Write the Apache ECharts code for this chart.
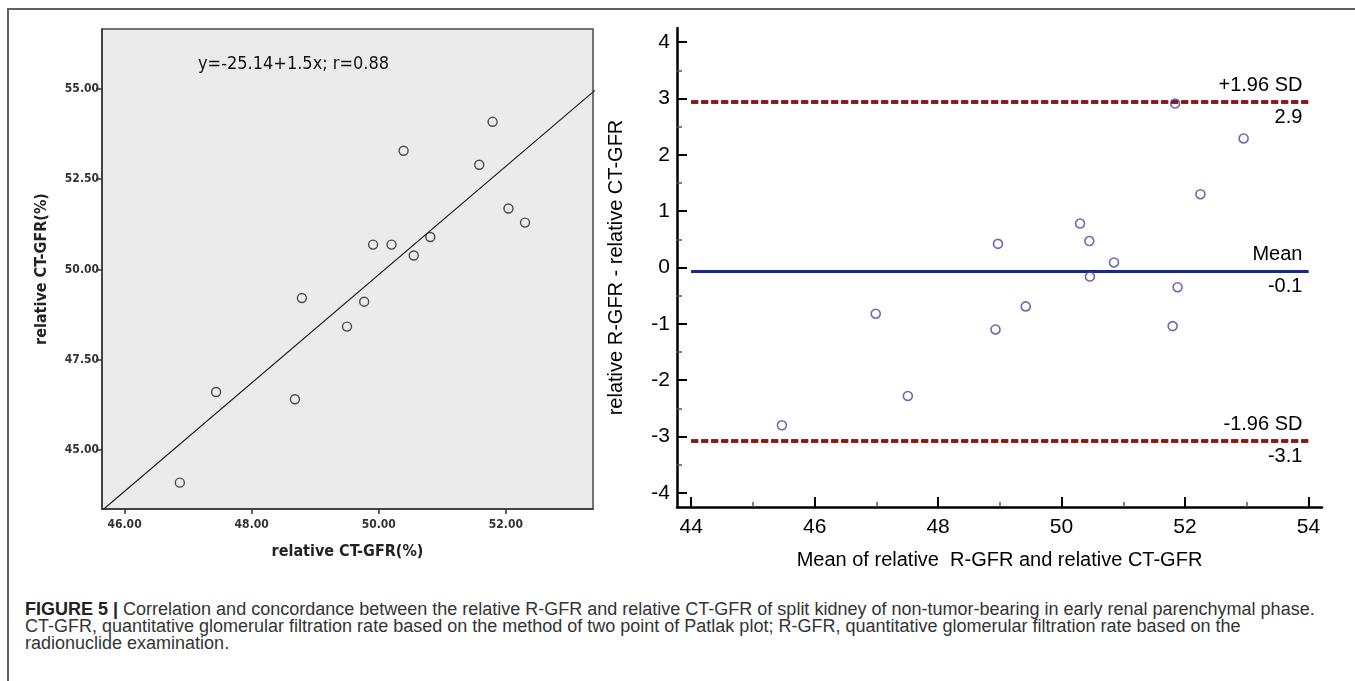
<!DOCTYPE html>
<html>
<head>
<meta charset="utf-8">
<title>Figure 5</title>
<script src="https://cdn.jsdelivr.net/npm/echarts@6/dist/echarts.min.js"></script>
<style>
  body { margin: 0; background: #fff; }
  #frame { position: absolute; left: 7px; top: 8px; width: 1348px; height: 673px;
           border-top: 2px solid #5f5f5f; border-left: 2px solid #5f5f5f; }
  #chart { position: absolute; left: 0; top: 0; width: 1355px; height: 590px; }
  #caption { position: absolute; left: 25px; top: 601px; font: 18px/17px 'Liberation Sans', Arial, sans-serif;
             color: #333; white-space: nowrap; }
  #caption b { color: #222; }
</style>
</head>
<body>
<div id="frame"></div>
<div id="chart"></div>
<div id="caption">
  <b>FIGURE 5 |</b> Correlation and concordance between the relative R-GFR and relative CT-GFR of split kidney of non-tumor-bearing in early renal parenchymal phase.<br>
  CT-GFR, quantitative glomerular filtration rate based on the method of two point of Patlak plot; R-GFR, quantitative glomerular filtration rate based on the<br>
  radionuclide examination.
</div>
<script>
// left panel: correlation
const corrX = [51.79, 50.39, 51.58, 52.04, 52.30, 49.91, 50.20, 50.81, 50.55, 48.79, 49.77, 49.50, 47.44, 48.68, 46.87]
const corrY = [54.09, 53.29, 52.90, 51.69, 51.30, 50.69, 50.69, 50.90, 50.39, 49.21, 49.11, 48.42, 46.61, 46.41, 44.10]
const fitIntercept = -25.14
const fitSlope = 1.5
const fitRange = [45.6, 53.4]
const corrTicksX = [46, 48, 50, 52]
const corrTicksY = [45, 47.5, 50, 52.5, 55]

// right panel: Bland-Altman
const baMean = [45.47, 46.99, 47.51, 48.93, 48.97, 49.42, 50.30, 50.45, 50.46, 50.85, 51.80, 51.84, 51.88, 52.25, 52.95]
const baDiff = [-2.80, -0.82, -2.28, -1.10, 0.42, -0.69, 0.78, 0.47, -0.16, 0.09, -1.04, 2.91, -0.35, 1.30, 2.29]
const baUpper = 2.94
const baMeanDiff = -0.06
const baLower = -3.07
const baLimitLabels = ['2.9', '-0.1', '-3.1']
const baLineSpan = [44, 54]
const baTicksX = [44, 46, 48, 50, 52, 54]
const baMinorX = [45, 47, 49, 51, 53]
const baTicksY = [-4, -3, -2, -1, 0, 1, 2, 3, 4]
const baMinorY = [-3.5, -2.5, -1.5, -0.5, 0.5, 1.5, 2.5, 3.5]

const spssFont = "'Liberation Sans Narrow', 'DejaVu Sans Condensed', 'Liberation Sans', sans-serif"
const arial = "'Liberation Sans', Arial, sans-serif"

const dashed = { color: '#861818', width: 3.5, type: [7, 3] }
const solidMean = { color: '#1c2690', width: 3, type: 'solid' }

function limitLine (y, style, top, bottom) {
  const lbl = { fontFamily: arial, fontSize: 20, color: '#000', distance: 6 }
  return [
    [{ coord: [baLineSpan[0], y], lineStyle: style, label: Object.assign({ position: 'insideEndTop', formatter: top }, lbl) },
      { coord: [baLineSpan[1], y] }],
    [{ coord: [baLineSpan[0], y], lineStyle: style, label: Object.assign({ position: 'insideEndBottom', formatter: bottom }, lbl) },
      { coord: [baLineSpan[1], y] }]
  ]
}

const myChart = echarts.init(document.getElementById('chart'))
myChart.setOption({
  animation: false,
  grid: [
    { left: 102, top: 29, width: 491, height: 480, show: true, backgroundColor: '#ebebeb', borderColor: '#4a4a4a', borderWidth: 1.5 },
    { left: 677, top: 28, width: 645, height: 479 }
  ],
  xAxis: [
    {
      gridIndex: 0, type: 'value', min: 45.645, max: 53.37,
      axisLine: { onZero: false, lineStyle: { color: '#333', width: 1.5 } },
      axisTick: { customValues: corrTicksX, length: 5, lineStyle: { color: '#333', width: 1.5 } },
      axisLabel: { customValues: corrTicksX, formatter: v => v.toFixed(2), fontFamily: spssFont, fontSize: 12, fontWeight: 'bold', color: '#333', margin: 10 },
      splitLine: { show: false },
      name: 'relative CT-GFR(%)', nameLocation: 'middle', nameGap: 35,
      nameTextStyle: { fontFamily: spssFont, fontSize: 16, fontWeight: 'bold', color: '#222' }
    },
    {
      gridIndex: 1, type: 'value', position: 'bottom', min: 43.77, max: 54.22,
      axisLine: { onZero: false, lineStyle: { color: '#000', width: 2.5 } },
      axisTick: { inside: true, customValues: baTicksX, length: 10, lineStyle: { color: '#000', width: 2 } },
      axisLabel: { customValues: baTicksX, fontFamily: arial, fontSize: 21, color: '#000', margin: 10 },
      splitLine: { show: false },
      name: 'Mean of relative  R-GFR and relative CT-GFR', nameLocation: 'middle', nameGap: 43,
      nameTextStyle: { fontFamily: arial, fontSize: 20, color: '#000' }
    },
    {
      gridIndex: 1, type: 'value', position: 'bottom', min: 43.77, max: 54.22,
      axisLine: { show: false, onZero: false },
      axisTick: { inside: true, customValues: baMinorX, length: 5, lineStyle: { color: '#555', width: 1.5 } },
      axisLabel: { show: false },
      splitLine: { show: false }
    }
  ],
  yAxis: [
    {
      gridIndex: 0, type: 'value', min: 43.37, max: 56.66,
      axisLine: { onZero: false, lineStyle: { color: '#333', width: 1.5 } },
      axisTick: { customValues: corrTicksY, length: 6, lineStyle: { color: '#333', width: 1.5 } },
      axisLabel: { customValues: corrTicksY, formatter: v => v.toFixed(2), fontFamily: spssFont, fontSize: 12, fontWeight: 'bold', color: '#333', margin: 3 },
      splitLine: { show: false },
      name: 'relative CT-GFR(%)', nameLocation: 'middle', nameGap: 52,
      nameTextStyle: { fontFamily: spssFont, fontSize: 16, fontWeight: 'bold', color: '#222' }
    },
    {
      gridIndex: 1, type: 'value', position: 'left', min: -4.25, max: 4.25,
      axisLine: { onZero: false, lineStyle: { color: '#000', width: 2.5 } },
      axisTick: { inside: true, customValues: baTicksY, length: 10, lineStyle: { color: '#000', width: 2 } },
      axisLabel: { customValues: baTicksY, fontFamily: arial, fontSize: 21, color: '#000', margin: 7 },
      splitLine: { show: false },
      name: 'relative R-GFR - relative CT-GFR', nameLocation: 'middle', nameGap: 51,
      nameTextStyle: { fontFamily: arial, fontSize: 20, color: '#000' }
    },
    {
      gridIndex: 1, type: 'value', position: 'left', min: -4.25, max: 4.25,
      axisLine: { show: false, onZero: false },
      axisTick: { inside: true, customValues: baMinorY, length: 5, lineStyle: { color: '#555', width: 1.5 } },
      axisLabel: { show: false },
      splitLine: { show: false }
    }
  ],
  graphic: [
    {
      type: 'text', left: 198, top: 55,
      style: { text: 'y=-25.14+1.5x; r=0.88', fontFamily: spssFont, fontSize: 18, fill: '#111' }
    }
  ],
  series: [
    {
      type: 'line', xAxisIndex: 0, yAxisIndex: 0, clip: true, symbol: 'none', silent: true,
      lineStyle: { color: '#1a1a1a', width: 1.2 },
      data: fitRange.map(x => [x, fitIntercept + fitSlope * x])
    },
    {
      type: 'scatter', xAxisIndex: 0, yAxisIndex: 0, symbol: 'circle', symbolSize: 9,
      itemStyle: { color: 'rgba(0,0,0,0)', borderColor: '#222', borderWidth: 1.4 },
      data: corrX.map((x, i) => [x, corrY[i]])
    },
    {
      type: 'scatter', xAxisIndex: 1, yAxisIndex: 1, symbol: 'circle', symbolSize: 9, z: 5,
      itemStyle: { color: 'rgba(0,0,0,0)', borderColor: '#4646a0', borderWidth: 1.6 },
      data: baMean.map((x, i) => [x, baDiff[i]]),
      markLine: {
        symbol: 'none', silent: true, animation: false,
        data: [].concat(
          limitLine(baUpper, dashed, '+1.96 SD', baLimitLabels[0]),
          limitLine(baMeanDiff, solidMean, 'Mean', baLimitLabels[1]),
          limitLine(baLower, dashed, '-1.96 SD', baLimitLabels[2])
        )
      }
    }
  ]
})
</script>
</body>
</html>
